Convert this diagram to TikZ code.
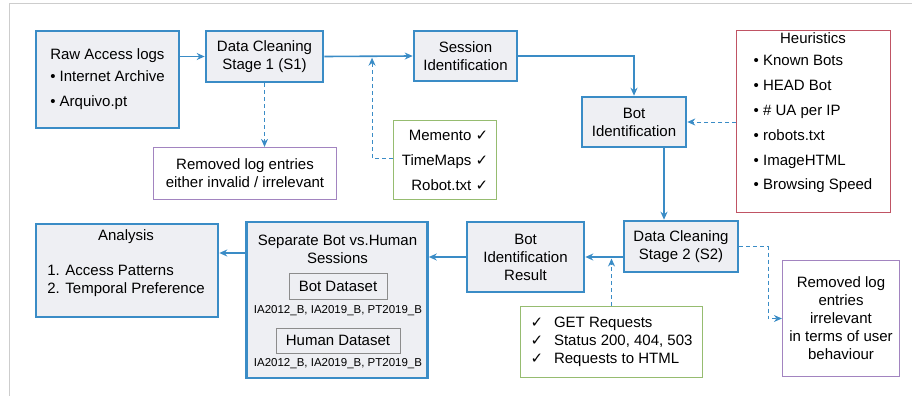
\documentclass[tikz,border=0pt]{standalone}
\usepackage{fontspec}
\setmainfont{Liberation Sans}
\newfontfamily\symfont{DejaVu Sans}
\usetikzlibrary{positioning, arrows.meta, calc}
\definecolor{boxblue}{RGB}{58,140,198}
\definecolor{boxfill}{RGB}{238,239,243}
\definecolor{heurred}{RGB}{192,84,100}
\definecolor{checkgreen}{RGB}{150,188,112}
\definecolor{droppurple}{RGB}{162,132,192}
\definecolor{framegray}{RGB}{205,205,205}
\definecolor{dsgray}{RGB}{140,140,140}
\tikzstyle{stagebox} = [rectangle, draw=boxblue, line width=2.6pt, fill=boxfill, align=center, inner sep=0pt, font=\fontsize{15}{18}\selectfont]
\tikzstyle{heurbox} = [rectangle, draw=heurred, line width=1pt, fill=white, inner sep=0pt]
\tikzstyle{checklist} = [rectangle, draw=checkgreen, line width=1.2pt, fill=white, inner sep=0pt, font=\fontsize{15}{18}\selectfont]
\tikzstyle{droplist} = [rectangle, draw=droppurple, line width=1.2pt, fill=white, align=center, inner sep=0pt, font=\fontsize{15}{18}\selectfont]
\tikzstyle{dsbox} = [rectangle, draw=dsgray, line width=0.8pt, inner sep=0pt, font=\fontsize{15}{18}\selectfont]
\tikzstyle{plaintext} = [inner sep=0pt, align=center, font=\fontsize{15}{18}\selectfont]
\tikzstyle{dscapt} = [inner sep=0pt, font=\fontsize{11.5}{13}\selectfont]
\tikzstyle{flowarrow} = [draw=boxblue, line width=1.6pt, -{Stealth[length=8pt,width=7pt]}]
\tikzstyle{dasharrow} = [draw=boxblue, line width=1pt, dash pattern=on 4pt off 3pt, -{Stealth[length=8pt,width=7pt]}]
\newcommand{\cmark}{{\symfont ✓}}

\begin{document}
\begin{tikzpicture}[x=1pt, y=-1pt]
            \useasboundingbox (0,0) rectangle (912,396);
            \draw [framegray, line width=1pt] (912,4) -- (9,4) -- (9,396);

            % first row
            \node (raw) [stagebox, align=left, minimum width=143pt, minimum height=97pt] at (107.5,79.5) {Raw Access logs\\[4pt]\textbullet\ Internet Archive\\[7pt]\textbullet\ Arquivo.pt};
            \node (s1) [stagebox, minimum width=117pt, minimum height=51pt] at (264.5,56.5) {Data Cleaning\\Stage 1 (S1)};
            \node (sess) [stagebox, minimum width=103pt, minimum height=50pt] at (465.5,56) {Session\\Identification};
            \node (bot) [stagebox, minimum width=104pt, minimum height=50pt] at (634,122) {Bot\\Identification};

            \node (heur) [heurbox, minimum width=154pt, minimum height=182pt] at (813.5,121.5) {};
            \node (heurtext) [plaintext] at (813,112) {\renewcommand{\arraystretch}{1.38}\begin{tabular}{@{}l@{}}
                \multicolumn{1}{@{}c@{}}{Heuristics}\\[-3pt]
                \textbullet\ Known Bots\\ \textbullet\ HEAD Bot\\ \textbullet\ \# UA per IP\\
                \textbullet\ robots.txt\\ \textbullet\ ImageHTML\\ \textbullet\ Browsing Speed
            \end{tabular}};

            \node (mem) [checklist, align=right, minimum width=103pt, minimum height=79pt] at (445,160) {Memento \cmark\\[7pt]TimeMaps \cmark\\[7pt]Robot.txt \cmark};
            \node (rm1) [droplist, minimum width=183pt, minimum height=52pt] at (245,173.5) {Removed log entries\\either invalid / irrelevant};

            % second row
            \node (s2) [stagebox, minimum width=114pt, minimum height=51pt] at (681,246.5) {Data Cleaning\\Stage 2 (S2)};
            \node (bir) [stagebox, minimum width=117pt, minimum height=70pt] at (525.5,257) {Bot\\Identification\\Result};
            \node (chk) [checklist, minimum width=182pt, minimum height=71pt] at (611.5,342) {\begin{tabular}{@{}l@{\hspace{11pt}}l@{}}
                \cmark & GET Requests\\ \cmark & Status 200, 404, 503\\ \cmark & Requests to HTML
            \end{tabular}};
            \node (rm2) [droplist, minimum width=117pt, minimum height=116pt] at (841,318.5) {Removed log\\entries\\irrelevant\\in terms of user\\behaviour};

            \node (sep) [stagebox, minimum width=181pt, minimum height=156pt] at (337,300) {};
            \node (septitle) [plaintext] at (337.5,249.5) {Separate Bot vs.Human\\Sessions};
            \node (botds) [dsbox, minimum width=98pt, minimum height=26pt] at (338,286) {Bot Dataset};
            \node (botcap) [dscapt, below=6pt of botds] {IA2012\_B, IA2019\_B, PT2019\_B};
            \node (humds) [dsbox, minimum width=124pt, minimum height=25pt] at (338,340.5) {Human Dataset};
            \node (humcap) [dscapt, below=5pt of humds] {IA2012\_B, IA2019\_B, PT2019\_B};

            \node (ana) [stagebox, minimum width=182pt, minimum height=93pt] at (127,270.5) {};
            \node (anatext) [plaintext] at (126,263.5) {\begin{tabular}{@{}l@{}}
                \multicolumn{1}{@{}c@{}}{Analysis}\\[17pt]
                1. Access Patterns\\ 2. Temporal Preference
            \end{tabular}};

            % flow
            \draw [flowarrow] (raw.east |- s1.west) -- (s1.west);
            \draw [flowarrow] (s1.east) -- (sess.west);
            \draw [flowarrow] (sess.east) -| (bot.north);
            \draw [dasharrow] (heur.west |- bot.east) -- (bot.east);
            \draw [flowarrow] ([xshift=30pt]bot.south) -- ([xshift=30pt]bot.south |- s2.north);
            \draw [flowarrow] (s2.west |- bir.east) -- (bir.east);
            \draw [flowarrow] (bir.west) -- (bir.west -| sep.east);
            \draw [flowarrow] ([yshift=47pt]sep.west) -- ([yshift=47pt]sep.west -| ana.east);

            % side inputs and outputs
            \draw [dasharrow] (s1.south) -- (s1.south |- rm1.north);
            \draw [dasharrow, shorten >=1.5pt] ([yshift=2pt]mem.west) -| ($(s1.east)!0.54!(sess.west)$);
            \draw [dasharrow] (s2.east) -- ([xshift=29pt]s2.east) |- (rm2.west);
            \draw [dasharrow, shorten >=1.5pt] (chk.north) -- (chk.north |- bir.east);
        \end{tikzpicture}
\end{document}
